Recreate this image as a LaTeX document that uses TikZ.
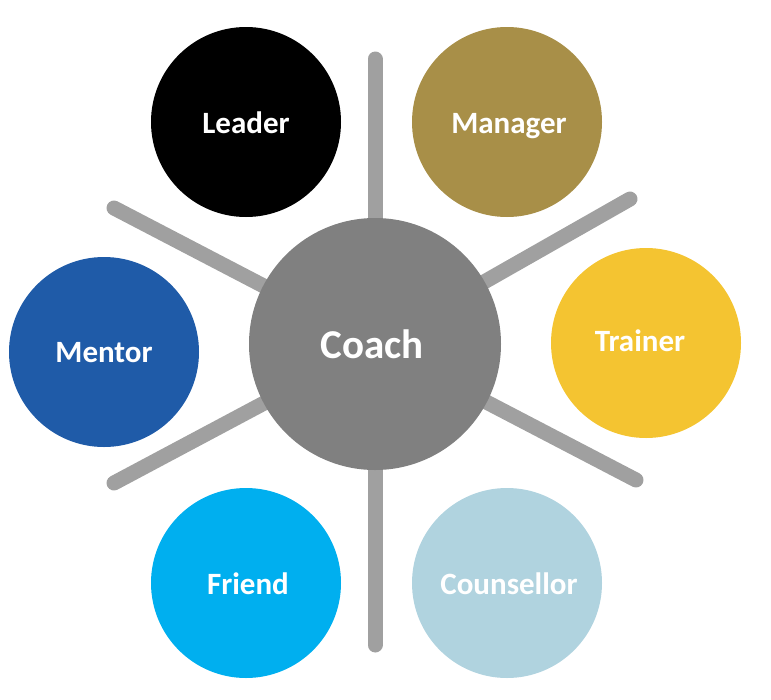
\documentclass[tikz,border=0pt]{standalone}
\usepackage{fontspec}
\setmainfont{Carlito}
\definecolor{spoke}{HTML}{A0A0A0}
\definecolor{coachc}{HTML}{808080}
\definecolor{managerc}{HTML}{A88F48}
\definecolor{trainerc}{HTML}{F4C431}
\definecolor{counsc}{HTML}{B0D3DF}
\definecolor{friendc}{HTML}{00AFEF}
\definecolor{mentorc}{HTML}{1F5BA8}
\tikzset{
  spokeline/.style={draw=spoke, line width=15pt, line cap=round},
  role/.style={circle, minimum size=190pt, inner sep=0pt},
  roletext/.style={text=white, inner sep=0pt, text height=22pt, text depth=0pt, font=\bfseries\fontsize{31}{34}\selectfont},
  hub/.style={circle, minimum size=252pt, inner sep=0pt, fill=coachc},
  hubtext/.style={text=white, inner sep=0pt, text height=29.5pt, text depth=0pt, font=\bfseries\fontsize{41}{44}\selectfont}
}
\begin{document}
\begin{tikzpicture}[x=1pt,y=-1pt]
\useasboundingbox (0,0) rectangle (771,699);
\coordinate (c) at (375,344);
\coordinate (e1) at (375,59);
\coordinate (e2) at (630,199);
\coordinate (e3) at (636,480);
\coordinate (e4) at (375,645);
\coordinate (e5) at (114,483);
\coordinate (e6) at (114,208);
\foreach \e in {e1,e2,e3,e4,e5,e6} \draw[spokeline] (c) -- (\e);
\node[hub] (coach) at (c) {};
\node[hubtext] (coachT) at (372,344) {Coach};
\node[role, fill=black] (leader) at (246,122) {};
\node[roletext] (leaderT) at (246,122) {Leader};
\node[role, fill=managerc] (manager) at (507,122) {};
\node[roletext] (managerT) at (509,122) {Manager};
\node[role, fill=trainerc] (trainer) at (646,343) {};
\node[roletext] (trainerT) at (640,340) {Trainer};
\node[role, fill=counsc] (counsellor) at (507,583) {};
\node[roletext] (counsellorT) at (509,583) {Counsellor};
\node[role, fill=friendc] (friend) at (246,583) {};
\node[roletext] (friendT) at (248,583) {Friend};
\node[role, fill=mentorc] (mentor) at (104,352) {};
\node[roletext] (mentorT) at (104,351) {Mentor};
\end{tikzpicture}
\end{document}
